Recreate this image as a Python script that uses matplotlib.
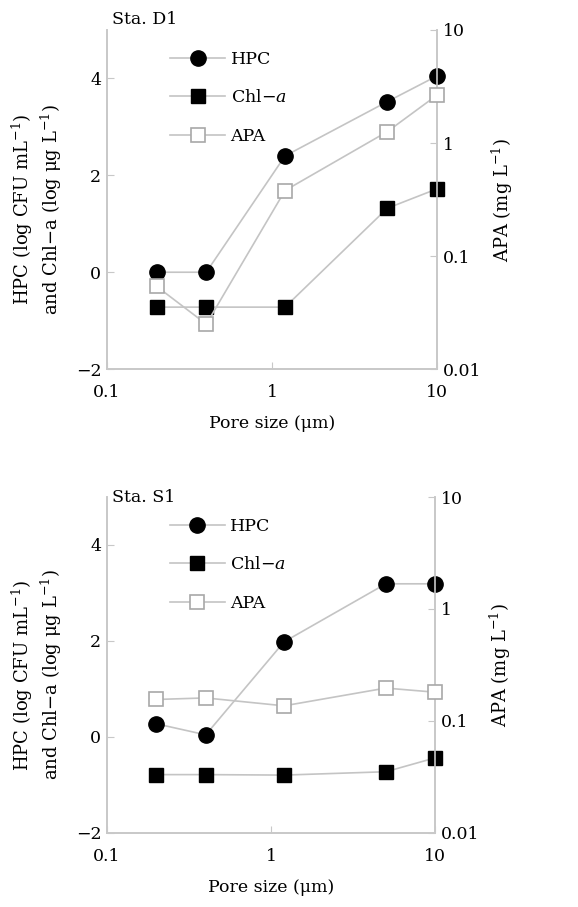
import matplotlib
matplotlib.use("Agg")
import matplotlib.pyplot as plt
from matplotlib.ticker import FixedLocator, FixedFormatter, NullLocator

plt.rcParams["font.family"] = ["DejaVu Serif"]
plt.rcParams["mathtext.fontset"] = "dejavuserif"
plt.rcParams["axes.unicode_minus"] = True

pore_size = [0.2, 0.4, 1.2, 5, 10]

# Sta. D1
hpc_d1 = [0.0, 0.0, 2.4, 3.52, 4.05]
chl_d1 = [-0.72, -0.72, -0.72, 1.32, 1.72]
apa_d1 = [0.054, 0.025, 0.38, 1.26, 2.65]

# Sta. S1
hpc_s1 = [0.27, 0.04, 1.98, 3.19, 3.19]
chl_s1 = [-0.79, -0.79, -0.8, -0.73, -0.44]
apa_s1 = [0.155, 0.16, 0.136, 0.196, 0.18]

stations = ["Sta. D1", "Sta. S1"]
label_y = [1.03, 1.0]

x_ticks = [0.1, 1, 10]
x_labels = ["0.1", "1", "10"]
left_ticks = [-2, 0, 2, 4]
left_labels = ["\u22122", "0", "2", "4"]
right_ticks = [0.01, 0.1, 1, 10]
right_labels = ["0.01", "0.1", "1", "10"]

line_col = "#c4c4c4"
spine_col = "#c8c8c8"

fig = plt.figure(figsize=(5.78, 9.07), dpi=100)
positions = [[0.185, 0.593, 0.571, 0.374], [0.185, 0.082, 0.568, 0.370]]
data = [(hpc_d1, chl_d1, apa_d1), (hpc_s1, chl_s1, apa_s1)]

for pos, (hpc, chl, apa), name, ly in zip(positions, data, stations, label_y):
    ax = fig.add_axes(pos)
    ax2 = ax.twinx()

    h1, = ax.plot(pore_size, hpc, color=line_col, lw=1.2, marker="o", ms=11,
                  mfc="black", mec="black", label="HPC", zorder=3, clip_on=False)
    h2, = ax.plot(pore_size, chl, color=line_col, lw=1.2, marker="s", ms=10.5,
                  mfc="black", mec="black", label="Chl\u2212$\\mathit{a}$",
                  zorder=3, clip_on=False)
    h3, = ax2.plot(pore_size, apa, color=line_col, lw=1.2, marker="s", ms=10.5,
                   mfc="white", mec="#a8a8a8", mew=1.2, label="APA", zorder=3,
                   clip_on=False)

    ax.set_xscale("log")
    ax.set_xlim(0.1, 10)
    ax.set_ylim(-2, 5)
    ax2.set_yscale("log")
    ax2.set_ylim(0.01, 10)

    ax.xaxis.set_major_locator(FixedLocator(x_ticks))
    ax.xaxis.set_major_formatter(FixedFormatter(x_labels))
    ax.xaxis.set_minor_locator(NullLocator())
    ax.yaxis.set_major_locator(FixedLocator(left_ticks))
    ax.yaxis.set_major_formatter(FixedFormatter(left_labels))
    ax2.yaxis.set_major_locator(FixedLocator(right_ticks))
    ax2.yaxis.set_major_formatter(FixedFormatter(right_labels))
    ax2.yaxis.set_minor_locator(NullLocator())

    for a in (ax, ax2):
        a.spines["top"].set_visible(False)
        for s in a.spines.values():
            s.set_color(spine_col)
            s.set_linewidth(1.2)
        a.tick_params(direction="in", length=5, color=spine_col, labelsize=12.5)
    ax.tick_params(axis="x", pad=11)
    ax.tick_params(axis="y", pad=4)
    ax2.tick_params(axis="y", pad=4)

    ax.set_xlabel("Pore size (\u03bcm)", fontsize=12.5, labelpad=10)
    ax.set_ylabel("HPC (log CFU mL$^{-1}$)\nand Chl\u2212a (log \u03bcg L$^{-1}$)",
                  fontsize=13, linespacing=1.2)
    ax.yaxis.set_label_coords(-0.13, 0.47)
    ax2.set_ylabel("APA (mg L$^{-1}$)", fontsize=13)
    ax2.yaxis.set_label_coords(1.16, 0.5)

    ax.text(0.015, ly, name, transform=ax.transAxes, fontsize=12.5,
            ha="left", va="center")

    ax.legend(handles=[h1, h2, h3], loc="upper left", bbox_to_anchor=(0.143, 0.985),
              frameon=False, fontsize=12.5, handlelength=3.2, labelspacing=1.25,
              handletextpad=0.3)

fig.savefig("out.png", dpi=100)
